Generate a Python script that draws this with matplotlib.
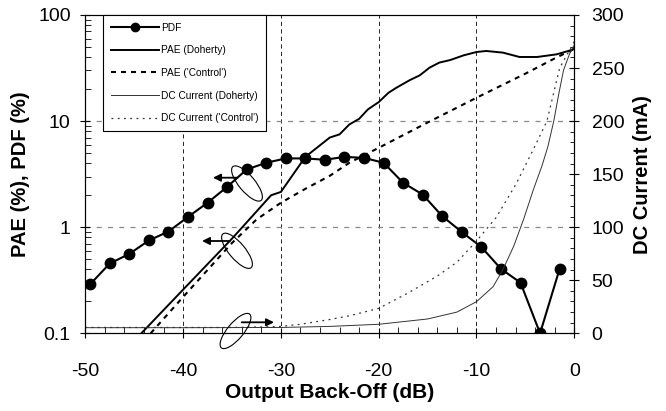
import matplotlib
matplotlib.use('Agg')
import matplotlib.pyplot as plt
from matplotlib.patches import Ellipse
from matplotlib.ticker import MultipleLocator, NullFormatter

plt.rcParams['font.family'] = ['Liberation Sans', 'DejaVu Sans']
plt.rcParams['axes.unicode_minus'] = False

# PDF of output back-off (%), markers every 2 dB
pdf_x = [-49.5, -47.5, -45.5, -43.5, -41.5, -39.5, -37.5, -35.5, -33.5, -31.5,
         -29.5, -27.5, -25.5, -23.5, -21.5, -19.5, -17.5, -15.5, -13.5, -11.5,
         -9.5, -7.5, -5.5, -3.5, -1.5]
pdf_y = [0.29, 0.455, 0.56, 0.75, 0.91, 1.25, 1.70, 2.40, 3.50, 4.05,
         4.45, 4.45, 4.32, 4.60, 4.50, 4.05, 2.62, 2.03, 1.27, 0.90,
         0.65, 0.405, 0.30, 0.10, 0.405]

# PAE (%) Doherty
pae_doh_x = [-45, -40, -35, -31, -30, -27.5, -25, -24, -23, -22, -21.1, -20, -19,
             -18.2, -16.8, -15.8, -14.8, -13.8, -12.7, -11.3, -10, -9, -7.3,
             -5.6, -3.8, -1.8, -0.3, 0]
pae_doh_y = [0.085, 0.258, 0.78, 2.0, 2.15, 4.6, 7.0, 7.5, 9.3, 10.5, 12.9, 15.1, 18.5,
             20.6, 24.4, 27.0, 31.9, 35.6, 37.6, 41.7, 44.8, 45.8, 44.2,
             40.2, 40.2, 42.6, 46.7, 48.0]

# PAE (%) 'Control'
pae_ctl_x = [-44, -40, -35, -32.5, -30, -27.5, -25, -23, -20, -15, -10, -5, -2, 0]
pae_ctl_y = [0.085, 0.22, 0.71, 1.18, 1.70, 2.3, 3.05, 4.05, 5.6, 9.7, 16.6, 28.0, 39.0, 48.0]

# DC current (mA) Doherty
dc_doh_x = [-50, -40, -30, -25, -20, -15, -12, -10, -8.3, -7.3, -6.2, -5.2, -4.2,
            -3.3, -2.7, -2.1, -1.6, -1.1, -0.5, 0]
dc_doh_y = [5.3, 5.3, 5.5, 6.5, 8.5, 13.5, 20, 29.8, 44, 60, 82, 107, 135,
            158, 176, 200, 225, 248, 263, 272]

# DC current (mA) 'Control'
dc_ctl_x = [-50, -40, -35, -32, -30, -28, -25, -23, -20, -17, -14, -12, -10, -8,
            -6, -4.2, -2.8, -1.5, 0]
dc_ctl_y = [5.5, 5.5, 5.5, 6, 6.5, 8.5, 13, 16.5, 23.5, 38, 54, 67, 87, 109,
            140, 173, 200, 250, 275]

W, H = 666, 411
fig = plt.figure(figsize=(W / 100, H / 100), dpi=100)
ax = fig.add_axes([85.3 / W, 1 - 333.3 / H, (574.3 - 85.3) / W, (333.3 - 15) / H])
ax2 = ax.twinx()

l_pdf, = ax.plot(pdf_x, pdf_y, color='k', lw=1.5, marker='o', ms=7.5,
                 label='PDF', zorder=5)
l_pd, = ax.plot(pae_doh_x, pae_doh_y, color='k', lw=1.4, label='PAE (Doherty)')
l_pc, = ax.plot(pae_ctl_x, pae_ctl_y, color='k', lw=1.5, ls=(0, (2.4, 2.4)),
                label="PAE ('Control')")
l_dd, = ax2.plot(dc_doh_x, dc_doh_y, color='#333333', lw=0.7,
                 label='DC Current (Doherty)')
l_dc, = ax2.plot(dc_ctl_x, dc_ctl_y, color='#333333', lw=0.9, ls=(0, (1.5, 3.5)),
                 label="DC Current ('Control')")

ax.set_xlim(-50, 0)
ax.set_yscale('log')
ax.set_ylim(0.1, 100)
ax2.set_ylim(0, 300)

# grid
for gx in [-40, -30, -20, -10]:
    ax.axvline(gx, color='k', lw=0.6, ls=(0, (5, 4)), zorder=0.5)
for gy in [1, 10]:
    ax.axhline(gy, color='#888888', lw=0.9, ls=(0, (4, 5)), zorder=0.5)

ax.set_yticks([0.1, 1, 10, 100])
ax.set_yticklabels(['0.1', '1', '10', '100'])
ax.yaxis.set_minor_formatter(NullFormatter())
ax.xaxis.set_major_locator(MultipleLocator(10))
ax.xaxis.set_minor_locator(MultipleLocator(2))
ax.tick_params(axis='both', which='major', direction='inout', length=7, width=0.8,
               labelsize=14)
ax.tick_params(axis='x', which='major', pad=18)
ax.tick_params(axis='y', which='major', pad=7)
ax.tick_params(axis='both', which='minor', direction='in', length=4, width=0.6)
ax2.yaxis.set_major_locator(MultipleLocator(50))
ax2.yaxis.set_minor_locator(MultipleLocator(10))
ax2.tick_params(axis='y', which='major', direction='inout', length=7, width=0.8,
                labelsize=14, pad=9)
ax2.tick_params(axis='y', which='minor', direction='in', length=3, width=0.6)

for a in (ax, ax2):
    for s in a.spines.values():
        s.set_linewidth(0.8)
ax.spines['top'].set_color('#555555')

ax.set_xlabel('Output Back-Off (dB)', fontsize=15, fontweight='bold', labelpad=2)
ax.set_ylabel('PAE (%), PDF (%)', fontsize=14.5, fontweight='bold', labelpad=6)
ax2.set_ylabel('DC Current (mA)', fontsize=14.5, fontweight='bold', labelpad=6)

leg = ax2.legend(handles=[l_pdf, l_pd, l_pc, l_dd, l_dc], loc='upper left',
                 bbox_to_anchor=(0.036, 1.0), fontsize=7.3, handlelength=4.8,
                 handletextpad=0.2, labelspacing=1.25, borderpad=0.75,
                 borderaxespad=0, fancybox=False, framealpha=1,
                 edgecolor='k', markerscale=0.8)
leg.get_frame().set_linewidth(0.8)

# ellipse and arrow annotations, in pixel coordinates
ov = fig.add_axes([0, 0, 1, 1], facecolor='none')
ov.set_xlim(0, W)
ov.set_ylim(0, H)
ov.axis('off')

ellipses = [(247, 183.5, -50), (237, 250.8, -50), (235.5, 331, 50)]
for cx, cy, ang in ellipses:
    ov.add_patch(Ellipse((cx, H - cy), 44, 16, angle=ang, fill=False,
                         ec='k', lw=0.8))
arrows = [((237, 177.7), (213, 177.7)), ((230, 241), (202, 241)),
          ((241.7, 322.3), (274, 322.3))]
for tail, head in arrows:
    ov.annotate('', xy=(head[0], H - head[1]), xytext=(tail[0], H - tail[1]),
                arrowprops=dict(arrowstyle='-|>', color='k', lw=1.3,
                                mutation_scale=11, shrinkA=0, shrinkB=0))

fig.savefig('out.png', dpi=100)
